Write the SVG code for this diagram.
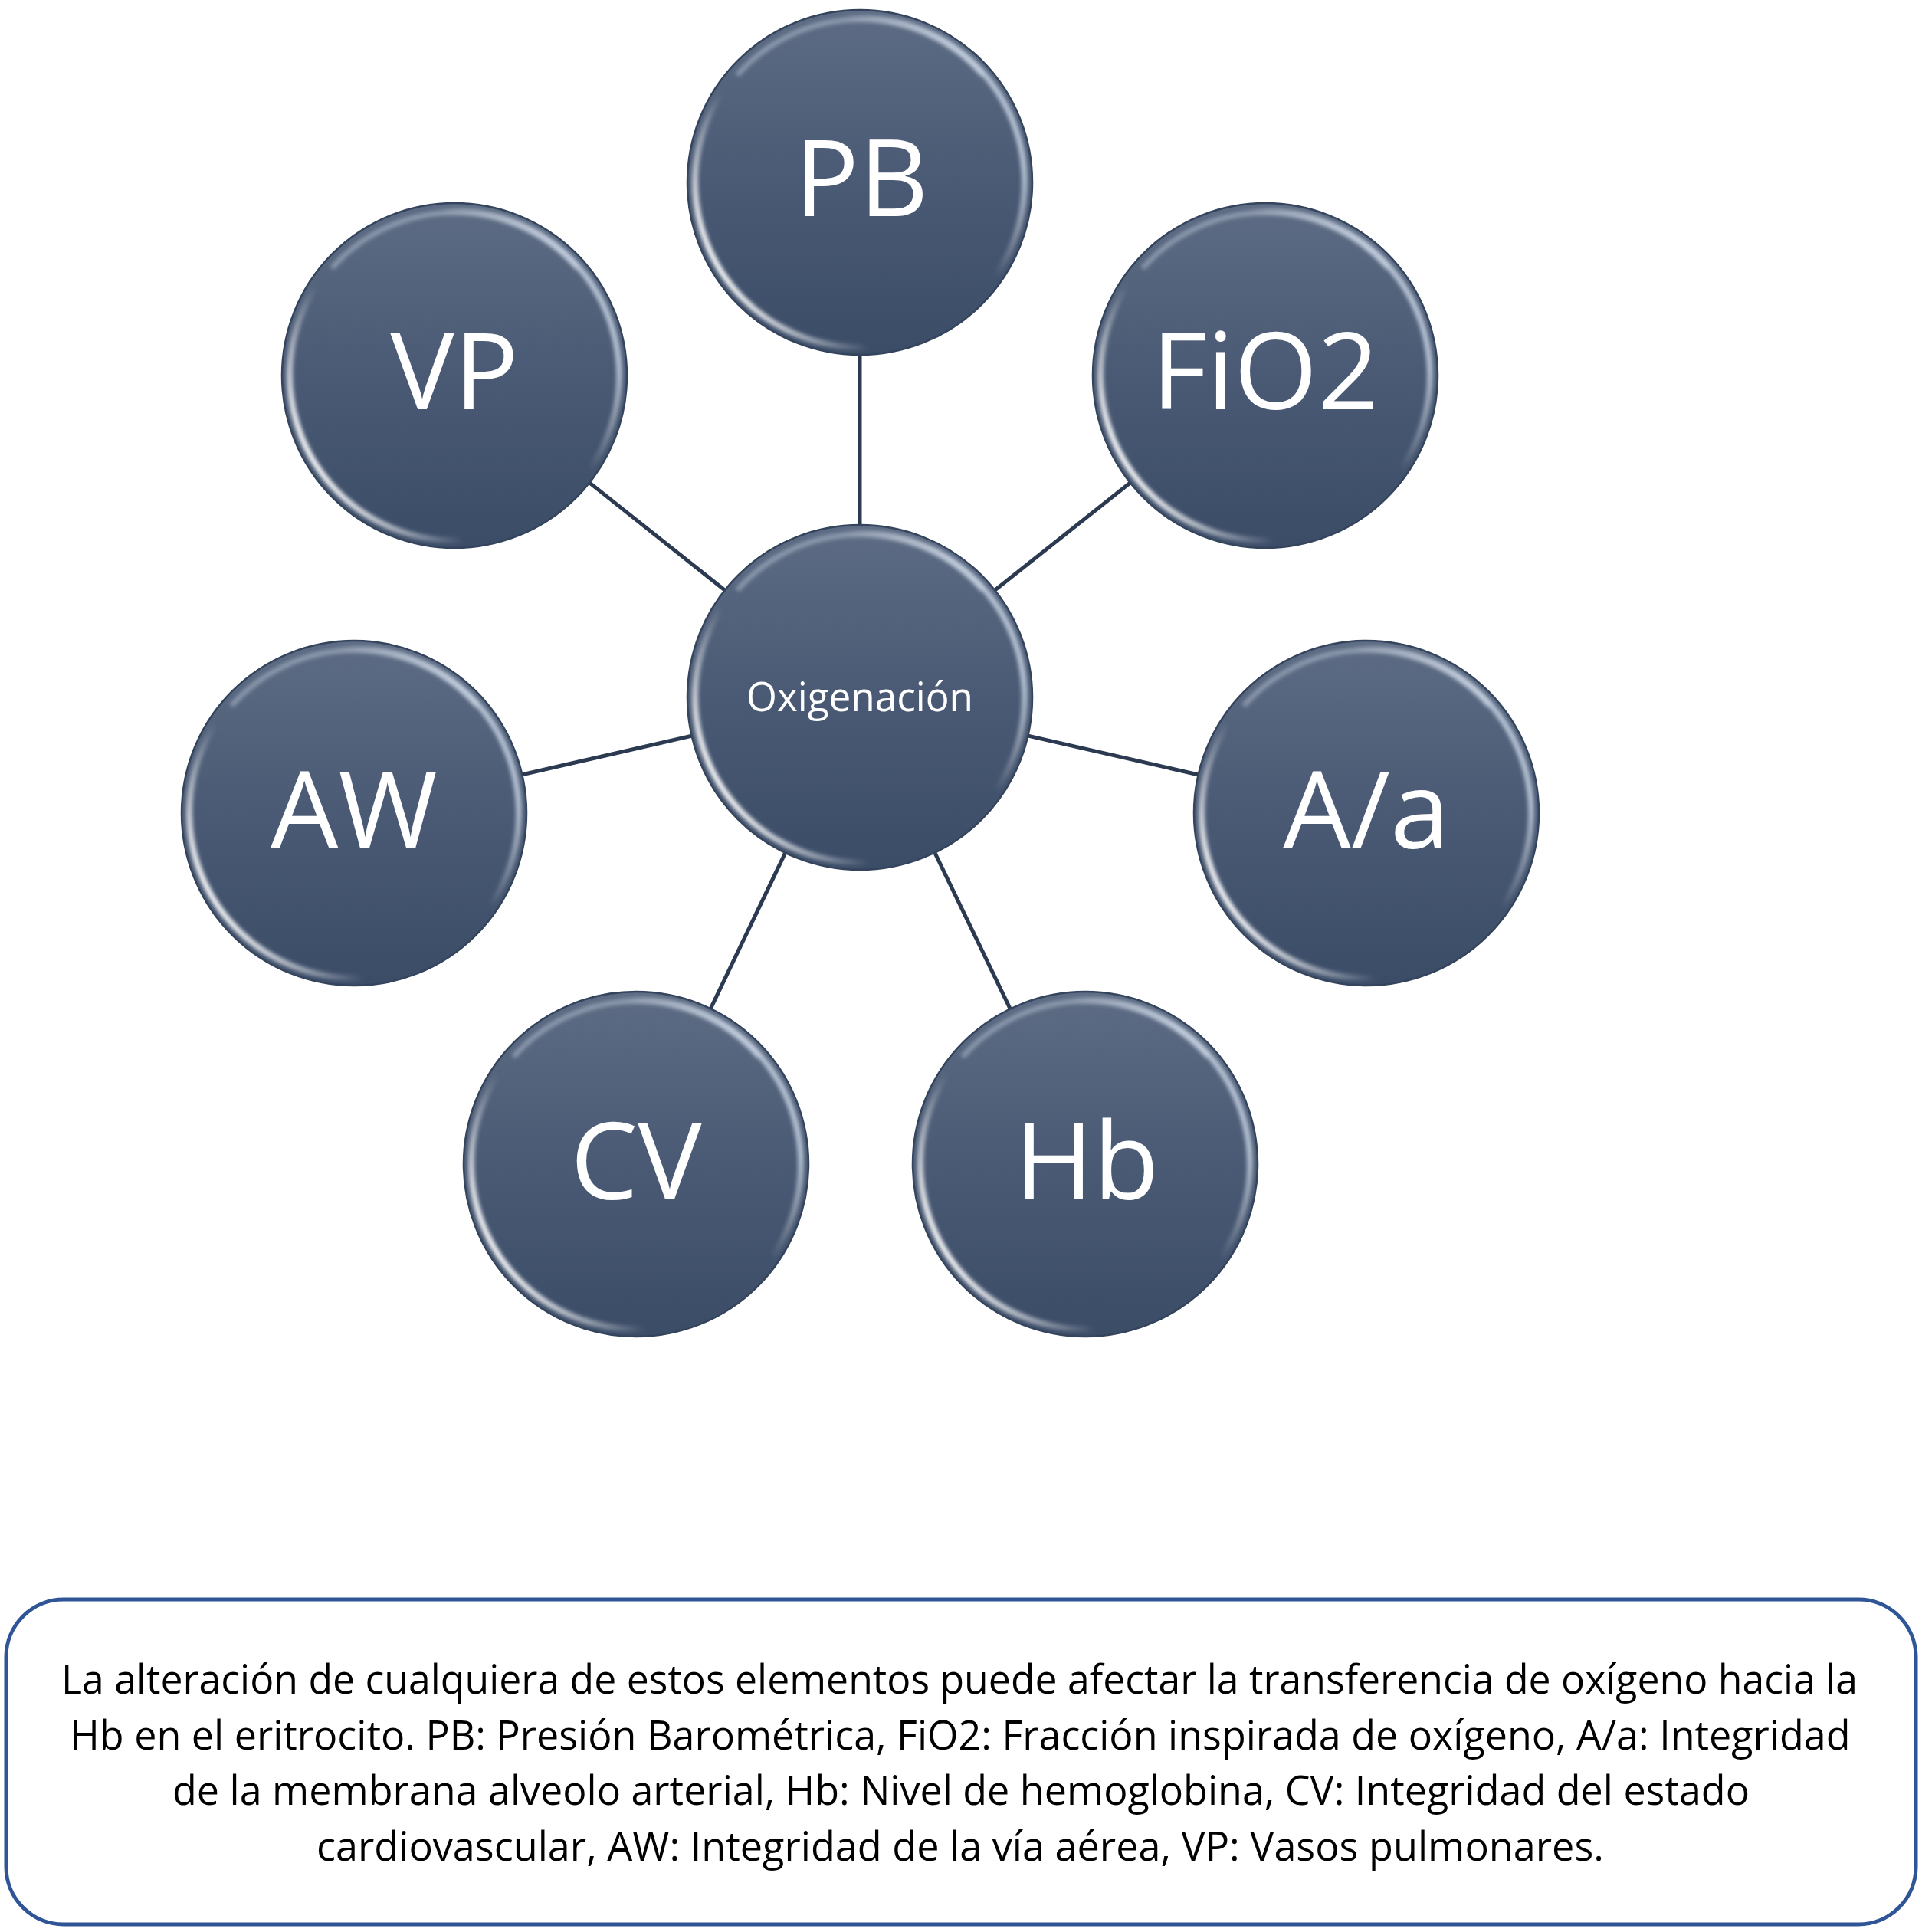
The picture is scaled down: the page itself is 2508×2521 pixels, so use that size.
<svg xmlns="http://www.w3.org/2000/svg" xmlns:xlink="http://www.w3.org/1999/xlink" width="2508" height="2521" viewBox="0 0 2508 2521">
<style>
.conn{stroke:#2b3a50;stroke-width:5;fill:none}
.lbl{font-family:"Open Sans","Noto Sans",sans-serif;fill:#ffffff;text-anchor:middle;font-size:140px}
.ctr{font-family:"Open Sans","Noto Sans",sans-serif;fill:#ffffff;text-anchor:middle;font-size:53px}
.cap{font-family:"Open Sans","Noto Sans",sans-serif;fill:#000000;text-anchor:middle;font-size:53px}
</style>
<defs>
<linearGradient id="base" x1="0" y1="-225" x2="0" y2="225" gradientUnits="userSpaceOnUse">
<stop offset="0" stop-color="#5d6c84"/>
<stop offset="0.5" stop-color="#4a5a74"/>
<stop offset="1" stop-color="#3b4c67"/>
</linearGradient>
<linearGradient id="rim" x1="-170" y1="150" x2="190" y2="-60" gradientUnits="userSpaceOnUse">
<stop offset="0" stop-color="#ffffff" stop-opacity="0.95"/>
<stop offset="0.3" stop-color="#ffffff" stop-opacity="0.0"/>
<stop offset="0.75" stop-color="#ffffff" stop-opacity="0.0"/>
<stop offset="1" stop-color="#dbe6f5" stop-opacity="0.7"/>
</linearGradient>
<filter id="soft" x="-20%" y="-20%" width="140%" height="140%">
<feGaussianBlur stdDeviation="2.5"/>
</filter>
<g id="ball">
<circle r="225" fill="url(#base)" stroke="#34445c" stroke-width="2.5"/>
<circle r="215" fill="none" stroke="url(#rim)" stroke-width="8" filter="url(#soft)"/>
<path d="M -160 -140 A 213 213 0 0 1 160 -140" fill="none" stroke="#e6eef8" stroke-opacity="0.35" stroke-width="7" filter="url(#soft)"/>
</g>
</defs>
<rect width="2508" height="2521" fill="#ffffff"/>
<g id="connectors">
<line class="conn" x1="1122" y1="910" x2="1122" y2="238"/>
<line class="conn" x1="1122" y1="910" x2="593" y2="490"/>
<line class="conn" x1="1122" y1="910" x2="1651" y2="490"/>
<line class="conn" x1="1122" y1="910" x2="462" y2="1061"/>
<line class="conn" x1="1122" y1="910" x2="1783" y2="1061"/>
<line class="conn" x1="1122" y1="910" x2="830" y2="1519"/>
<line class="conn" x1="1122" y1="910" x2="1416" y2="1519"/>
</g>
<g id="node-pb"><use xlink:href="#ball" x="1122" y="238"/><text class="lbl" x="1124" y="282">PB</text></g>
<g id="node-vp"><use xlink:href="#ball" x="593" y="490"/><text class="lbl" x="593" y="534">VP</text></g>
<g id="node-fio2"><use xlink:href="#ball" x="1651" y="490"/><text class="lbl" x="1651" y="534">FiO2</text></g>
<g id="node-aw"><use xlink:href="#ball" x="462" y="1061"/><text class="lbl" x="462" y="1107">AW</text></g>
<g id="node-aa"><use xlink:href="#ball" x="1783" y="1061"/><text class="lbl" x="1783" y="1107">A/a</text></g>
<g id="node-cv"><use xlink:href="#ball" x="830" y="1519"/><text class="lbl" x="830" y="1565">CV</text></g>
<g id="node-hb"><use xlink:href="#ball" x="1416" y="1519"/><text class="lbl" x="1418" y="1565">Hb</text></g>
<g id="node-center"><use xlink:href="#ball" x="1122" y="910"/><text class="ctr" x="1122" y="928" textLength="296" lengthAdjust="spacingAndGlyphs">Oxigenación</text></g>
<g id="caption">
<rect x="8" y="2087" width="2492" height="424" rx="75" ry="75" fill="#ffffff" stroke="#2f5597" stroke-width="5"/>
<text class="cap" x="1252" y="2210" textLength="2344" lengthAdjust="spacingAndGlyphs">La alteración de cualquiera de estos elementos puede afectar la transferencia de oxígeno hacia la</text>
<text class="cap" x="1253" y="2283" textLength="2323" lengthAdjust="spacingAndGlyphs">Hb en el eritrocito. PB: Presión Barométrica, FiO2: Fracción inspirada de oxígeno, A/a: Integridad</text>
<text class="cap" x="1254" y="2355" textLength="2058" lengthAdjust="spacingAndGlyphs">de la membrana alveolo arterial, Hb: Nivel de hemoglobina, CV: Integridad del estado</text>
<text class="cap" x="1253" y="2428" textLength="1680" lengthAdjust="spacingAndGlyphs">cardiovascular, AW: Integridad de la vía aérea, VP: Vasos pulmonares.</text>
</g>
</svg>
